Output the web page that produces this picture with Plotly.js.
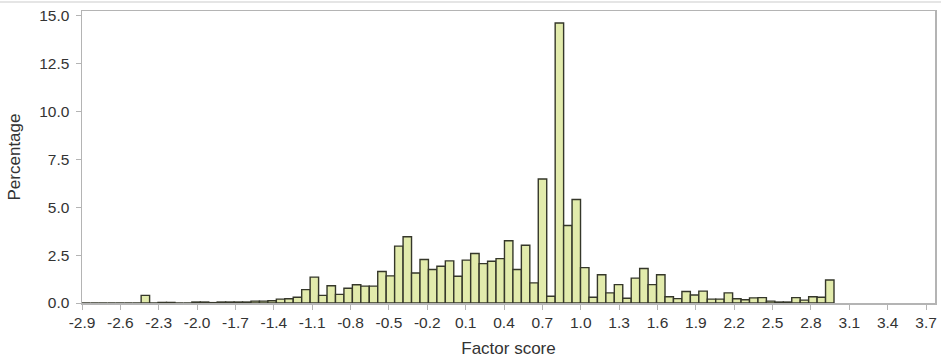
<!DOCTYPE html>
<html>
<head>
<meta charset="utf-8">
<script src="https://cdn.plot.ly/plotly-3.0.1.min.js"></script>
<style>html,body{margin:0;padding:0;background:#fff;}#chart{width:941px;height:362px;}</style>
</head>
<body>
<div id="chart"></div>
<script>
// Histogram bins (factor score) and percentage per bin
const binStart = -2.9;
const binWidth = 0.06607;
const percentage = [
  0, 0, 0, 0, 0, 0, 0,
  0.4,
  0, 0.03, 0.03, 0, 0,
  0.05, 0.05, 0.02,
  0.05, 0.05, 0.05, 0.05,
  0.1, 0.1, 0.12,
  0.2, 0.22, 0.3,
  0.7, 1.35, 0.4, 0.9, 0.45, 0.77, 0.95, 0.88, 0.88, 1.65, 1.42,
  2.97, 3.46, 1.57, 2.27, 1.75, 1.92, 2.2, 1.4, 2.24, 2.59, 2.06, 2.18, 2.32, 3.25, 1.75, 3.02, 1.05, 6.48,
  0.35, 14.63, 4.05, 5.41, 1.85, 0.3, 1.48, 0.53, 0.96, 0.25, 1.3, 1.8, 0.96, 1.48, 0.33, 0.23, 0.6, 0.42,
  0.62, 0.2, 0.2, 0.53, 0.22, 0.17, 0.27, 0.28, 0.1, 0.05, 0.05, 0.28, 0.15, 0.33, 0.3, 1.2
];
const binMid = percentage.map((_, i) => binStart + (i + 0.5) * binWidth);

const xTickVals = [-2.9, -2.6, -2.3, -2.0, -1.7, -1.4, -1.1, -0.8, -0.5, -0.2, 0.1, 0.4, 0.7, 1.0, 1.3, 1.6, 1.9, 2.2, 2.5, 2.8, 3.1, 3.4, 3.7];
const xTickText = ["-2.9", "-2.6", "-2.3", "-2.0", "-1.7", "-1.4", "-1.1", "-0.8", "-0.5", "-0.2", "0.1", "0.4", "0.7", "1.0", "1.3", "1.6", "1.9", "2.2", "2.5", "2.8", "3.1", "3.4", "3.7"];
const yTickVals = [0, 2.5, 5, 7.5, 10, 12.5, 15];
const yTickText = ["0.0", "2.5", "5.0", "7.5", "10.0", "12.5", "15.0"];

const FONT = "Liberation Sans, Arial, sans-serif";
const axisCol = "#b4b4b4";
const textCol = "#333333";

const trace = {
  type: "bar",
  x: binMid,
  y: percentage,
  width: binWidth,
  marker: { color: "#e2ebac", line: { color: "#35372a", width: 1.4 } },
  hoverinfo: "x+y"
};

const layout = {
  width: 941,
  height: 362,
  margin: { l: 82, r: 6, t: 11, b: 59 },
  paper_bgcolor: "#ffffff",
  plot_bgcolor: "#ffffff",
  showlegend: false,
  bargap: 0,
  font: { family: FONT, color: textCol, size: 15 },
  xaxis: {
    range: [-2.9, 3.77],
    tickmode: "array",
    tickvals: xTickVals,
    ticktext: xTickText,
    ticks: "outside",
    ticklen: 5,
    tickcolor: axisCol,
    showgrid: false,
    zeroline: false,
    showline: true,
    mirror: true,
    linecolor: axisCol,
    linewidth: 1.5,
    tickfont: { family: FONT, size: 15.5, color: textCol },
    title: { text: "Factor score", font: { family: FONT, size: 17, color: textCol }, standoff: 12 }
  },
  yaxis: {
    range: [0, 15.26],
    tickmode: "array",
    tickvals: yTickVals,
    ticktext: yTickText,
    ticks: "outside",
    ticklen: 5,
    tickcolor: axisCol,
    ticklabelstandoff: 3,
    showgrid: false,
    zeroline: false,
    showline: true,
    mirror: true,
    linecolor: axisCol,
    linewidth: 1.5,
    tickfont: { family: FONT, size: 15.5, color: textCol },
    title: { text: "Percentage", font: { family: FONT, size: 17, color: textCol }, standoff: 14 }
  },
  shapes: [
    { type: "line", xref: "paper", yref: "paper", x0: -0.1, x1: 1.01, y0: 1.031, y1: 1.031, line: { color: "#dddddd", width: 1.5 } }
  ]
};

Plotly.newPlot("chart", [trace], layout, { displayModeBar: false, staticPlot: true });
</script>
</body>
</html>
